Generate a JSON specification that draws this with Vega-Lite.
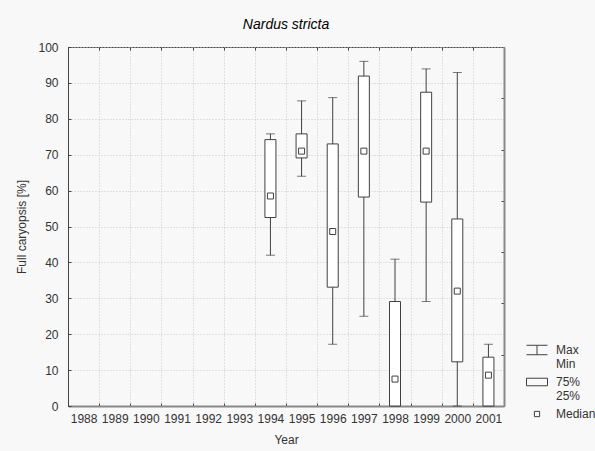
{
  "$schema": "https://vega.github.io/schema/vega-lite/v6.json",
  "autosize": {"type": "none"},
  "padding": {"left": 68, "top": 47, "right": 91, "bottom": 45},
  "width": 436,
  "height": 359,
  "background": "#f8f8f8",
  "title": {"text": "Nardus stricta", "font": "Liberation Sans", "fontSize": 14, "fontStyle": "italic", "fontWeight": "normal", "color": "#000000", "offset": 9, "anchor": "middle"},
  "config": {
    "view": {"stroke": "#444444", "strokeWidth": 1, "fill": "#ffffff"},
    "axis": {"labelFont": "Liberation Sans", "titleFont": "Liberation Sans", "labelFontSize": 12, "titleFontSize": 12, "titleFontWeight": "normal", "labelColor": "#333333", "titleColor": "#333333", "tickColor": "#444444", "gridColor": "#c8c8c8", "gridDash": [1, 2], "labelOverlap": false},
    "legend": {"labelFont": "Liberation Sans", "labelFontSize": 12, "labelColor": "#333333"}
  },
  "data": {"values": [
    {"year": "1994", "min": 42, "q1": 52.5, "median": 58.5, "q3": 74.2, "max": 75.8},
    {"year": "1995", "min": 64, "q1": 69.1, "median": 71, "q3": 75.8, "max": 85},
    {"year": "1996", "min": 17.2, "q1": 33.1, "median": 48.6, "q3": 73, "max": 85.9},
    {"year": "1997", "min": 25, "q1": 58.2, "median": 71, "q3": 91.9, "max": 96},
    {"year": "1998", "min": 0, "q1": 0, "median": 7.5, "q3": 29.1, "max": 40.9},
    {"year": "1999", "min": 29.1, "q1": 56.8, "median": 71, "q3": 87.4, "max": 93.9},
    {"year": "2000", "min": 0, "q1": 12.3, "median": 32, "q3": 52.1, "max": 92.9},
    {"year": "2001", "min": 0, "q1": 0, "median": 8.6, "q3": 13.6, "max": 17.2}
  ]},
  "resolve": {"axis": {"x": "independent", "y": "independent"}},
  "layer": [
    {
      "mark": {"type": "rule", "color": "#404040", "strokeWidth": 1},
      "encoding": {
        "x": {"field": "year", "type": "ordinal", "scale": {"type": "band", "domain": ["1988","1989","1990","1991","1992","1993","1994","1995","1996","1997","1998","1999","2000","2001"], "paddingInner": 0, "paddingOuter": 0},
          "axis": {"orient": "bottom", "title": "Year", "labelAngle": 0, "tickBand": "extent", "grid": true, "tickSize": -3, "labelPadding": 10, "titlePadding": 10, "domainColor": "#888888", "domainWidth": 2}},
        "y": {"field": "min", "type": "quantitative", "scale": {"domain": [0, 100], "nice": false, "zero": true},
          "axis": {"orient": "left", "title": "Full caryopsis [%]", "values": [0,10,20,30,40,50,60,70,80,90,100], "grid": true, "tickSize": -3, "labelPadding": 13, "titlePadding": 9, "domainColor": "#444444"}},
        "y2": {"field": "max"}
      }
    },
    {
      "mark": {"type": "tick", "color": "#404040", "size": 9, "thickness": 1},
      "encoding": {
        "x": {"field": "year", "type": "ordinal", "axis": {"orient": "top", "title": null, "labels": false, "tickBand": "extent", "grid": false, "tickSize": -3, "domain": false}},
        "y": {"field": "max", "type": "quantitative", "axis": null}
      }
    },
    {
      "mark": {"type": "tick", "color": "#404040", "size": 9, "thickness": 1},
      "encoding": {
        "x": {"field": "year", "type": "ordinal", "axis": null},
        "y": {"field": "min", "type": "quantitative", "axis": {"orient": "right", "title": null, "labels": false, "grid": false, "tickSize": -3, "values": [14.2857, 28.5714, 42.8571, 57.1429, 71.4286, 85.7143], "domainColor": "#888888", "domainWidth": 2}}
      }
    },
    {
      "mark": {"type": "bar", "size": 11, "fill": "#ffffff", "stroke": "#404040", "strokeWidth": 1},
      "encoding": {
        "x": {"field": "year", "type": "ordinal", "axis": null},
        "y": {"field": "q1", "type": "quantitative", "axis": null},
        "y2": {"field": "q3"}
      }
    },
    {
      "mark": {"type": "point", "shape": "square", "size": 36, "filled": false, "fill": "#ffffff", "stroke": "#404040", "strokeWidth": 1, "opacity": 1},
      "encoding": {
        "x": {"field": "year", "type": "ordinal", "axis": null},
        "y": {"field": "median", "type": "quantitative", "axis": null}
      }
    },
    {
      "data": {"values": [{"key": "Max|Min"}, {"key": "75%|25%"}, {"key": "Median"}]},
      "mark": {"type": "point", "opacity": 0},
      "encoding": {
        "shape": {"field": "key", "type": "nominal",
          "scale": {"domain": ["Max|Min", "75%|25%", "Median"], "range": ["M-1,-0.45H1M0,-0.45V0.45M-1,0.45H1", "M-1,-0.36H1V0.36H-1Z", "M-0.25,-0.25H0.25V0.25H-0.25Z"]},
          "legend": {"title": null, "orient": "none", "legendX": 458, "legendY": 292, "padding": 0, "symbolSize": 441, "labelOffset": 8, "rowPadding": 1, "symbolOpacity": 1, "symbolStrokeColor": "#404040", "symbolFillColor": "#ffffff", "symbolStrokeWidth": 1,
            "labelExpr": "split(datum.label, '|')",
            "encode": {"symbols": {"update": {"opacity": {"value": 1}, "stroke": {"value": "#404040"}, "fill": {"value": "#ffffff"}}}}}
        }
      }
    }
  ]
}
